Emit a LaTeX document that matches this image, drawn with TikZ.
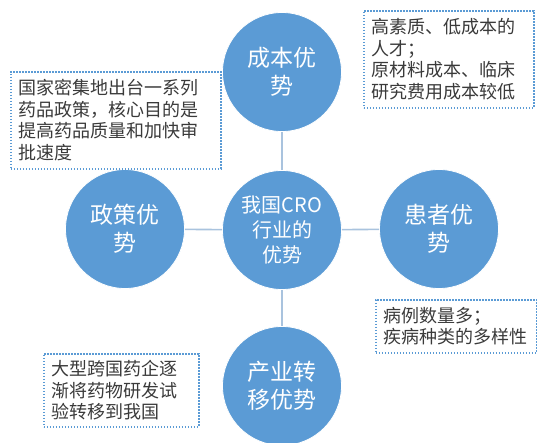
\documentclass[tikz,border=0pt]{standalone}
\usepackage{fontspec}
\newfontfamily\cjk{Noto Sans CJK SC}
\definecolor{circblue}{HTML}{5B9BD5}
\definecolor{linkc}{HTML}{A9C3DE}
\definecolor{boxtxt}{HTML}{3A3A3A}
\tikzset{
  bigcirc/.style={circle, fill=circblue, draw=white, line width=0.8pt, minimum size=119pt, inner sep=0pt, text=white, align=center, font=\cjk\fontsize{23}{28}\selectfont},
  midcirc/.style={bigcirc, font=\cjk\fontsize{20}{25}\selectfont},
  link/.style={draw=linkc, line width=1.6pt},
  notebox/.style={draw=circblue, line width=1.6pt, dash pattern=on 1.6pt off 1.4pt, anchor=north west, align=left, inner ysep=0pt, text=boxtxt, font=\cjk\fontsize{18}{21.5}\selectfont}
}
\begin{document}
\begin{tikzpicture}[x=1pt,y=-1pt]
\useasboundingbox (0,0) rectangle (537,443);
\node[midcirc] (mid) at (282,230) {我国CRO\\行业的\\优势};
\node[bigcirc] (top) at (282,72) {成本优\\势};
\node[bigcirc] (left) at (125,229) {政策优\\势};
\node[bigcirc] (right) at (439,229) {患者优\\势};
\node[bigcirc] (bot) at (282,386) {产业转\\移优势};
\draw[link] (mid) -- (top);
\draw[link] (mid) -- (left);
\draw[link] (mid) -- (right);
\draw[link] (mid) -- (bot);
\node[notebox, inner xsep=8pt, text width=154pt, minimum height=97pt] (b1) at (363,10) {高素质、低成本的\\人才；\\原材料成本、临床\\研究费用成本较低};
\node[notebox, inner xsep=8pt, text width=194pt, minimum height=97pt] (b2) at (10,71) {国家密集地出台一系列\\药品政策，核心目的是\\提高药品质量和加快审\\批速度};
\node[notebox, inner xsep=8pt, text width=145pt, minimum height=53pt] (b3) at (375,299) {病例数量多；\\疾病种类的多样性};
\node[notebox, inner xsep=8pt, text width=139pt, minimum height=73pt] (b4) at (43,353) {大型跨国药企逐\\渐将药物研发试\\验转移到我国};
\end{tikzpicture}
\end{document}
